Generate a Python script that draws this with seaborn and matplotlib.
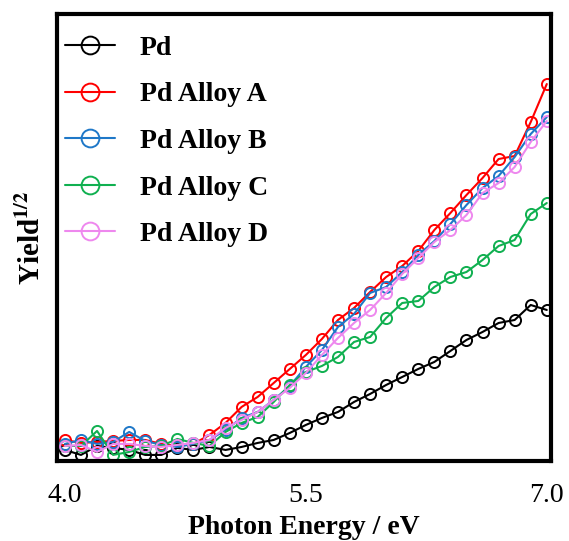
import numpy as np
import pandas as pd
import seaborn as sns
from matplotlib import pyplot as plt

energy = np.round(np.arange(4.0, 7.01, 0.1), 1)

pd_pure = [0.11, 0.06, 0.15, 0.13, 0.11, 0.06, 0.06, 0.13, 0.11, 0.14, 0.11,
           0.14, 0.18, 0.21, 0.28, 0.36, 0.43, 0.49, 0.59, 0.67, 0.76, 0.84,
           0.92, 0.99, 1.10, 1.21, 1.29, 1.38, 1.41, 1.56, 1.51]
alloy_a = [0.21, 0.18, 0.19, 0.20, 0.21, 0.21, 0.17, 0.15, 0.17, 0.26, 0.38,
           0.54, 0.64, 0.78, 0.92, 1.06, 1.22, 1.41, 1.53, 1.69, 1.84, 1.95,
           2.10, 2.31, 2.48, 2.66, 2.83, 3.02, 3.05, 3.39, 3.77]
alloy_b = [0.17, 0.21, 0.17, 0.19, 0.29, 0.20, 0.16, 0.14, 0.17, 0.21, 0.31,
           0.43, 0.49, 0.61, 0.75, 0.94, 1.11, 1.34, 1.47, 1.68, 1.74, 1.89,
           2.06, 2.20, 2.37, 2.56, 2.73, 2.85, 3.04, 3.27, 3.44]
alloy_c = [0.15, 0.15, 0.30, 0.06, 0.09, 0.14, 0.15, 0.22, 0.18, 0.15, 0.29,
           0.38, 0.44, 0.59, 0.76, 0.89, 0.95, 1.04, 1.19, 1.24, 1.43, 1.58,
           1.60, 1.74, 1.84, 1.89, 2.01, 2.15, 2.21, 2.47, 2.58]
alloy_d = [0.15, 0.16, 0.09, 0.17, 0.17, 0.15, 0.14, 0.16, 0.18, 0.21, 0.33,
           0.41, 0.49, 0.61, 0.73, 0.88, 1.06, 1.23, 1.38, 1.51, 1.68, 1.87,
           2.03, 2.19, 2.31, 2.46, 2.68, 2.78, 2.94, 3.19, 3.40]

labels = ['Pd', 'Pd Alloy A', 'Pd Alloy B', 'Pd Alloy C', 'Pd Alloy D']
colors = ['black', '#ff0000', '#1f78c8', '#10b050', '#ee88ee']
series = [pd_pure, alloy_a, alloy_b, alloy_c, alloy_d]

sns.set_style('white')
plt.rcParams['font.family'] = ['Liberation Serif', 'DejaVu Serif']
plt.rcParams['mathtext.fontset'] = 'stix'
plt.rcParams['text.color'] = 'black'
plt.rcParams['axes.labelcolor'] = 'black'
plt.rcParams['xtick.color'] = 'black'

fig = plt.figure(figsize=(5.69, 5.41), dpi=100)
ax = fig.add_axes([0.100, 0.148, 0.868, 0.826])

for name, vals, col in zip(labels, series, colors):
    df = pd.DataFrame({'energy': energy, 'yield': vals})
    sns.lineplot(
        data=df, x='energy', y='yield', ax=ax, color=col, label=name,
        marker='o', markersize=8, markerfacecolor='none',
        markeredgecolor=col, markeredgewidth=1.4, linewidth=1.5,
    )

ax.set_xlim(3.95, 7.025)
ax.set_ylim(0, 4.47)
ax.set_xticks([4.0, 5.5, 7.0])
ax.set_xticklabels(['4.0', '5.5', '7.0'], fontsize=20)
ax.set_yticks([])
ax.tick_params(axis='x', length=0, pad=16)
ax.set_xlabel('Photon Energy / eV', fontsize=20, fontweight='bold', labelpad=5)
ax.set_ylabel(r'Yield$^{\mathbf{1/2}}$', fontsize=21, fontweight='bold',
              labelpad=8)
for sp in ax.spines.values():
    sp.set_linewidth(3)
    sp.set_color('black')

leg = ax.legend(loc='upper left', bbox_to_anchor=(-0.006, 0.977),
                frameon=False, prop={'weight': 'bold', 'size': 20},
                handlelength=1.8, labelspacing=0.76, borderaxespad=0,
                handletextpad=0.9, markerscale=1.6)

fig.savefig('out.png', dpi=100)
